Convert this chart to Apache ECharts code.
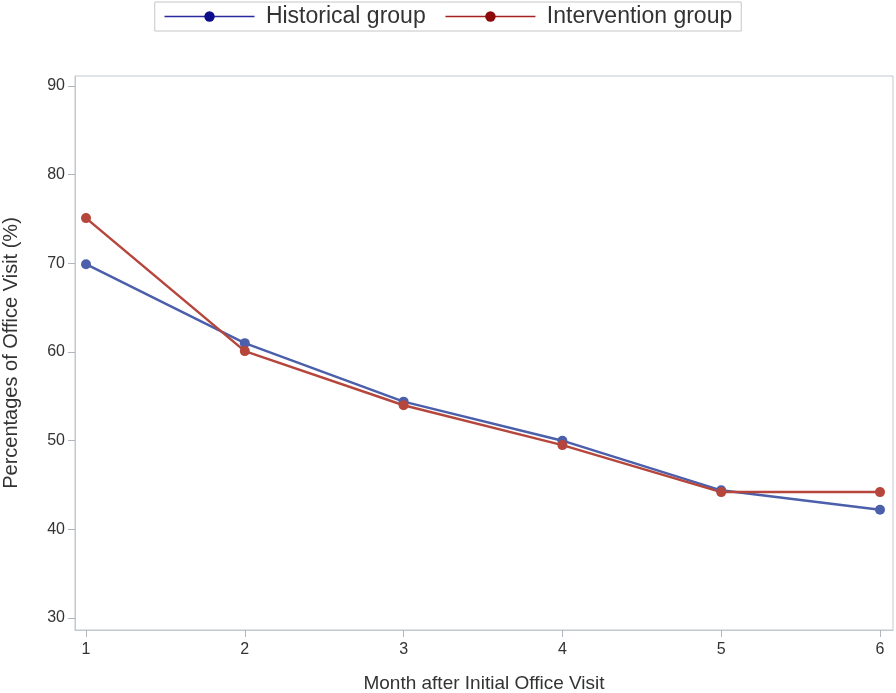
<!DOCTYPE html>
<html><head><meta charset="utf-8">
<script src="https://cdn.jsdelivr.net/npm/echarts@6/dist/echarts.min.js"></script>
<style>html,body{margin:0;padding:0;background:#fff}#c{width:896px;height:693px}</style>
</head><body><div id="c"></div>
<script>
const months = [1, 2, 3, 4, 5, 6];
const historical = [69.9, 61.0, 54.4, 50.0, 44.4, 42.2];
const intervention = [75.1, 60.1, 54.0, 49.5, 44.2, 44.2];
const yTicks = [30, 40, 50, 60, 70, 80, 90];
const xTicks = [1, 2, 3, 4, 5, 6];

const chart = echarts.init(document.getElementById('c'));
const font = 'Liberation Sans, Arial, sans-serif';
chart.setOption({
  animation: false,
  textStyle: { fontFamily: font },
  legend: {
    top: 2, left: 'center',
    itemWidth: 90, itemHeight: 13, itemGap: 19,
    borderColor: '#c6c6c6', borderWidth: 1, padding: [3, 9, 3, 9],
    formatter: n => ' ' + n,
    textStyle: { fontSize: 23, color: '#333', fontFamily: font },
    data: [
      { name: 'Historical group', itemStyle: { color: '#0d0d8c' }, lineStyle: { color: '#2a2aa0', width: 1.5 } },
      { name: 'Intervention group', itemStyle: { color: '#8c0a0a' }, lineStyle: { color: '#a82020', width: 1.5 } }
    ]
  },
  grid: { left: 75, right: 3, top: 76, bottom: 63, show: true, borderColor: '#c2c8cf', borderWidth: 1,
          containLabel: false, outerBoundsMode: 'none' },
  xAxis: {
    type: 'value', min: 1 - 11 / 158.8, max: 6 + 13 / 158.8,
    name: 'Month after Initial Office Visit', nameLocation: 'middle', nameGap: 44,
    nameTextStyle: { fontSize: 19, color: '#333' },
    axisLine: { show: true, onZero: false, lineStyle: { color: '#c2c8cf' } },
    axisTick: { show: true, length: 7, customValues: xTicks, lineStyle: { color: '#b0b6bd' } },
    axisLabel: { customValues: xTicks, fontSize: 16, color: '#333', margin: 12 },
    splitLine: { show: false }
  },
  yAxis: {
    type: 'value', min: 30 - 12 / 8.867, max: 90 + 10 / 8.867,
    name: 'Percentages of Office Visit (%)', nameLocation: 'middle', nameGap: 54,
    nameTextStyle: { fontSize: 20, color: '#333' },
    axisLine: { show: true, onZero: false, lineStyle: { color: '#c2c8cf' } },
    axisTick: { show: true, length: 7, customValues: yTicks, lineStyle: { color: '#b0b6bd' } },
    axisLabel: { customValues: yTicks, fontSize: 16, color: '#333', margin: 10 },
    splitLine: { show: false }
  },
  series: [
    {
      name: 'Historical group', type: 'line',
      data: months.map((m, i) => [m, historical[i]]),
      symbol: 'circle', symbolSize: 10,
      lineStyle: { color: '#4b5fab', width: 2.5 },
      itemStyle: { color: '#4b5fab' }
    },
    {
      name: 'Intervention group', type: 'line',
      data: months.map((m, i) => [m, intervention[i]]),
      symbol: 'circle', symbolSize: 10,
      lineStyle: { color: '#b6463c', width: 2.5 },
      itemStyle: { color: '#b6463c' }
    }
  ]
});
</script></body></html>
